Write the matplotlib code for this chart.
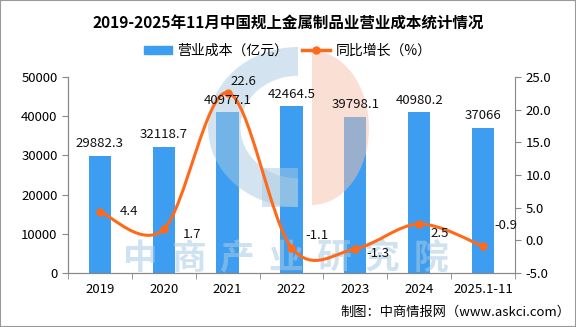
import matplotlib.pyplot as plt
from matplotlib.path import Path
from matplotlib.patches import PathPatch, Wedge, Patch
from matplotlib.lines import Line2D
from matplotlib.transforms import Affine2D

plt.rcParams['font.family'] = ['Noto Sans CJK SC', 'DejaVu Sans']

# data
years = ['2019', '2020', '2021', '2022', '2023', '2024', '2025.1-11']
cost = [29882.3, 32118.7, 40977.1, 42464.5, 39798.1, 40980.2, 37066]
cost_labels = ['29882.3', '32118.7', '40977.1', '42464.5', '39798.1', '40980.2', '37066']
growth = [4.4, 1.7, 22.6, -1.1, -1.3, 2.5, -0.9]

BAR_C = '#3d9df0'
LINE_C = '#ff6a1a'
WM_BLUE = '#a9cbe2'
WM_PINK = '#f6c2aa'
# label offsets (points) for growth labels
growth_off = [(14, 0), (14, -4), (2, 8), (10, 9), (8, -3), (8, -7), (8, 15)]


def smooth_path(xs, ys):
    pts = list(zip(xs, ys))
    verts = [pts[0]]
    codes = [Path.MOVETO]
    n = len(pts)
    for i in range(n - 1):
        p0 = pts[i - 1] if i > 0 else pts[i]
        p1 = pts[i]
        p2 = pts[i + 1]
        p3 = pts[i + 2] if i + 2 < n else pts[i + 1]
        c1 = (p1[0] + (p2[0] - p0[0]) / 6, p1[1] + (p2[1] - p0[1]) / 6)
        c2 = (p2[0] - (p3[0] - p1[0]) / 6, p2[1] - (p3[1] - p1[1]) / 6)
        verts += [c1, c2, p2]
        codes += [Path.CURVE4] * 3
    return Path(verts, codes)


fig = plt.figure(figsize=(5.76, 3.27), dpi=100)
ax = fig.add_axes([0.118, 0.165, 0.776, 0.600])
ax2 = ax.twinx()

x = list(range(len(years)))
ax.bar(x, cost, width=0.35, color=BAR_C, zorder=2)

ax.set_xlim(-0.5, len(years) - 0.5)
ax.set_ylim(0, 50000)
ax.set_yticks(range(0, 50001, 10000))
ax.set_xticks(x)
ax.set_xticklabels(years, fontsize=9.5)
ax.set_xticks([i + 0.5 for i in range(-1, len(years))], minor=True)
ax.tick_params(axis='x', which='major', length=0, pad=7)
ax.tick_params(axis='x', which='minor', length=4, color='#888888', direction='out')
ax.tick_params(axis='y', labelsize=9.5, length=4, color='#888888')

ax2.set_ylim(-5, 25)
ax2.set_yticks(range(-5, 26, 5))
ax2.set_yticklabels([f'{v:.1f}' for v in range(-5, 26, 5)], fontsize=9.5)
ax2.tick_params(axis='y', length=4, color='#888888')

for a in (ax, ax2):
    a.spines['top'].set_visible(False)
    for s in ('left', 'right', 'bottom'):
        a.spines[s].set_color('#888888')
ax.spines['right'].set_visible(False)

# watermark (pixel space, origin top-left), under the line and labels
pix = Affine2D().scale(1, -1).translate(0, 327).scale(1 / 576, 1 / 327) + fig.transFigure
wm_kw = dict(alpha=0.5, zorder=2.5, lw=0, clip_on=False)
ax2.add_patch(Wedge((0, 0), 1, 90, 270, width=0.36, color=WM_BLUE,
                    transform=Affine2D().scale(90, 80).translate(298, 127) + pix, **wm_kw))
ax2.add_patch(plt.Rectangle((262, 168), 36, 39, transform=pix, color=WM_BLUE, **wm_kw))
ax2.add_patch(Wedge((0, 0), 1, -90, 90, color=WM_PINK,
                    transform=Affine2D().scale(57, 77).translate(312, 128) + pix, **wm_kw))
for i, ch in enumerate('中商产业研究院'):
    ax2.text(140 + i * 48.5, 241, ch, transform=pix, fontsize=25, color=WM_BLUE,
             alpha=0.55, ha='center', va='top', fontweight='bold', zorder=2.4)

ax2.add_patch(PathPatch(smooth_path(x, growth), fill=False, edgecolor=LINE_C,
                        lw=2.2, zorder=3))
ax2.plot(x, growth, 'o', color=LINE_C, ms=5, zorder=4)
for xi, v, off in zip(x, growth, growth_off):
    ax2.annotate(f'{v}', (xi, v), xytext=off, textcoords='offset points',
                 ha='left', va='center', fontsize=9.5, color='#111111', zorder=6)
for xi, v, lab in zip(x, cost, cost_labels):
    ax2.annotate(lab, (xi, v), xycoords=ax.transData, xytext=(0, 4),
                 textcoords='offset points', ha='center', va='bottom',
                 fontsize=9.5, color='#111111', zorder=6)

fig.text(0.5, 0.93, '2019-2025年11月中国规上金属制品业营业成本统计情况',
         ha='center', va='center', fontsize=11.2, fontweight='bold')

handles = [Patch(color=BAR_C, label='营业成本（亿元）'),
           Line2D([], [], color=LINE_C, lw=2.5, marker='o', ms=5,
                  label='同比增长（%）')]
fig.legend(handles=handles, loc='center', bbox_to_anchor=(0.5, 0.845), ncol=2,
           frameon=False, fontsize=10, handlelength=2.0, handleheight=0.5,
           columnspacing=1.0, handletextpad=0.4)

fig.text(0.99, 0.045, '制图：中商情报网（www.askci.com）', ha='right',
         va='center', fontsize=9.5)

fig.patches.append(plt.Rectangle((0, 0), 1, 1, transform=fig.transFigure,
                                 fill=False, edgecolor='#999999', lw=1.5))

fig.savefig('out.png', dpi=100)
